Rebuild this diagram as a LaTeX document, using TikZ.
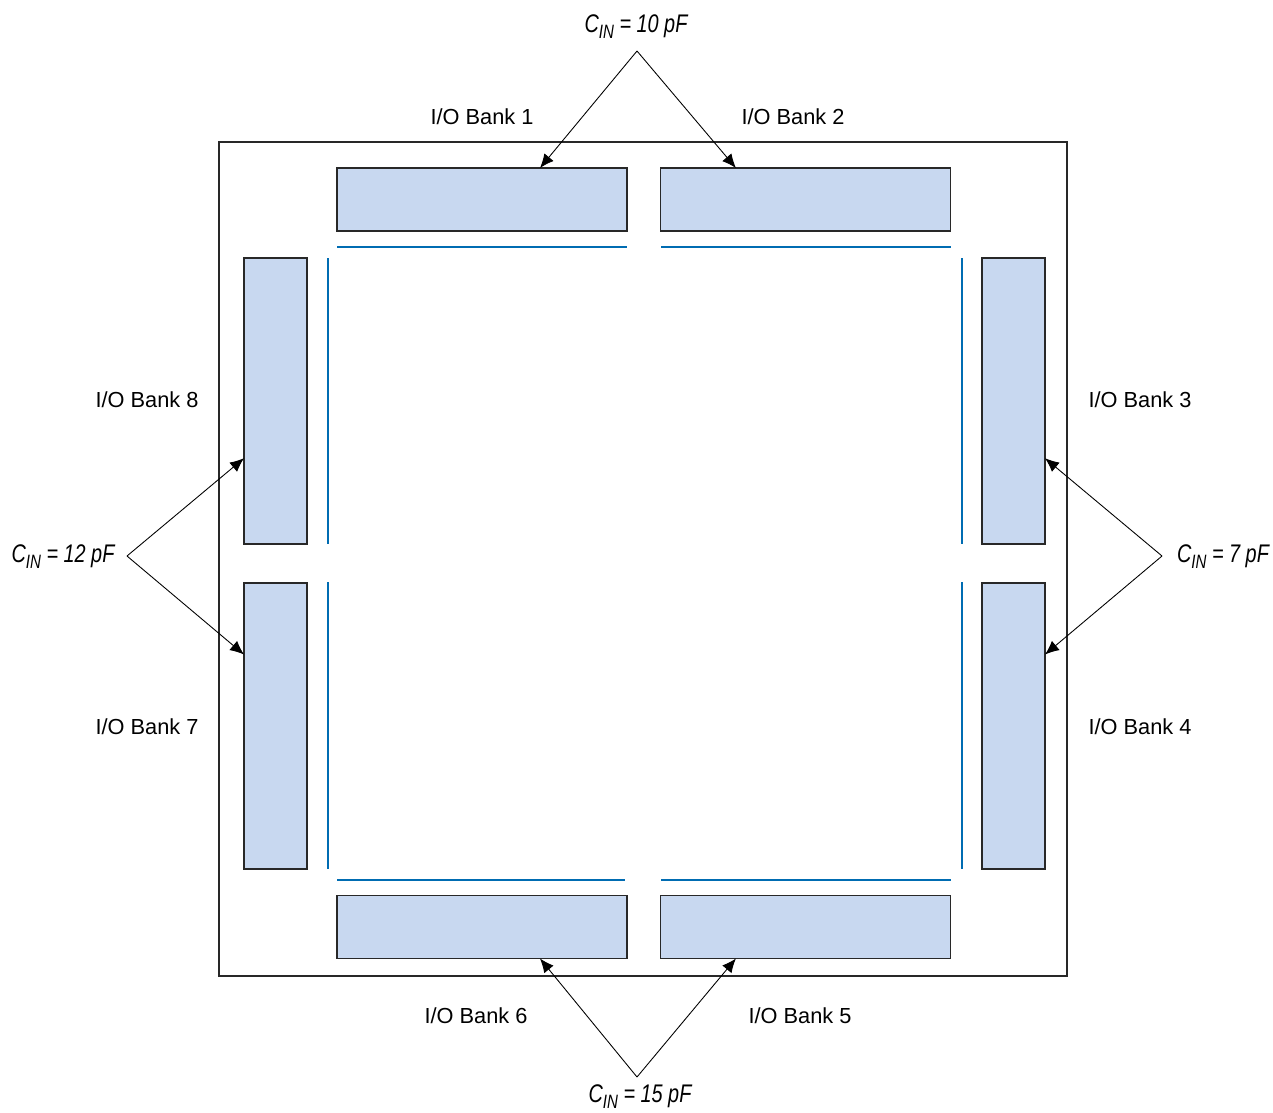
\documentclass[tikz,border=0pt]{standalone}
\usepackage{fontspec}
\setmainfont{Liberation Sans}
\newfontfamily\cinfont[FakeStretch=0.78]{Liberation Sans}
\usepackage{tikz}
\usetikzlibrary{arrows.meta,positioning,calc}
\definecolor{BankFill}{RGB}{200,216,240}
\definecolor{BusBlue}{RGB}{0,108,178}
\definecolor{EdgeGray}{RGB}{40,40,40}
\tikzset{
    bank/.style={draw=EdgeGray, line width=0.8pt, fill=BankFill, inner sep=0pt, outer sep=0pt},
    hbank/.style={bank, minimum width=5.8cm, minimum height=1.26cm},
    vbank/.style={bank, minimum width=1.26cm, minimum height=5.72cm},
    banklbl/.style={font=\fontsize{12.4}{14}\selectfont, inner sep=0pt},
    cinlbl/.style={font=\fontsize{14.5}{16}\selectfont\cinfont\itshape, inner sep=0pt},
    bus/.style={draw=BusBlue, line width=1.1pt},
    cinarr/.style={-{Latex[length=2.8mm,width=2.4mm]}, line width=0.5pt},
}
\newcommand{\cin}[1]{C\raisebox{-0.45ex}{\fontsize{11}{12}\selectfont IN} = #1 pF}

\begin{document}
\begin{tikzpicture}[x=0.02cm, y=-0.02cm]
\useasboundingbox (0,0) rectangle (1273,1112);
% chip outline
\draw[line width=0.9pt, EdgeGray] (219,142) rectangle (1067,976);

% I/O banks
\node[hbank] (b1) at (482,199.5) {};
\node[hbank] (b2) at (805.5,199.5) {};
\node[vbank] (b3) at (1013.5,401) {};
\node[vbank] (b4) at (1013.5,726) {};
\node[hbank] (b5) at (805.5,927) {};
\node[hbank] (b6) at (482,927) {};
\node[vbank] (b7) at (275.5,726) {};
\node[vbank] (b8) at (275.5,401) {};

% internal buses
\draw[bus] (337,247) -- (627,247);
\draw[bus] (661,247) -- (951,247);
\draw[bus] (337,880) -- (625,880);
\draw[bus] (661,880) -- (951,880);
\draw[bus] (328,258) -- (328,544);
\draw[bus] (328,582) -- (328,869);
\draw[bus] (962,258) -- (962,544);
\draw[bus] (962,582) -- (962,869);

% bank labels
\node[banklbl] (l1) at (482,117) {I/O Bank 1};
\node[banklbl] (l2) at (793,117) {I/O Bank 2};
\node[banklbl] (l3) at (1140,400) {I/O Bank 3};
\node[banklbl] (l4) at (1140,727) {I/O Bank 4};
\node[banklbl] (l5) at (800,1016) {I/O Bank 5};
\node[banklbl] (l6) at (476,1016) {I/O Bank 6};
\node[banklbl] (l7) at (147,727) {I/O Bank 7};
\node[banklbl] (l8) at (147,400) {I/O Bank 8};

% capacitance labels
\node[cinlbl] (ctop) at (636,27) {\cin{10}};
\node[cinlbl] (cleft) at (63,557) {\cin{12}};
\node[cinlbl] (cright) at (1223,557) {\cin{7}};
\node[cinlbl] (cbot) at (640,1097) {\cin{15}};

\coordinate (atop) at (637,51);
\coordinate (aleft) at (127,556);
\coordinate (aright) at (1162,556);
\coordinate (abot) at (637,1077);

\draw[cinarr] (atop) -- ($(b1.north west)!0.7!(b1.north east)$);
\draw[cinarr] (atop) -- ($(b2.north west)!0.26!(b2.north east)$);
\draw[cinarr] (aleft) -- ($(b8.north west)!0.7!(b8.south west)$);
\draw[cinarr] (aleft) -- ($(b7.north west)!0.25!(b7.south west)$);
\draw[cinarr] (aright) -- ($(b3.north east)!0.7!(b3.south east)$);
\draw[cinarr] (aright) -- ($(b4.north east)!0.25!(b4.south east)$);
\draw[cinarr] (abot) -- ($(b6.south west)!0.7!(b6.south east)$);
\draw[cinarr] (abot) -- ($(b5.south west)!0.26!(b5.south east)$);
\end{tikzpicture}
\end{document}
